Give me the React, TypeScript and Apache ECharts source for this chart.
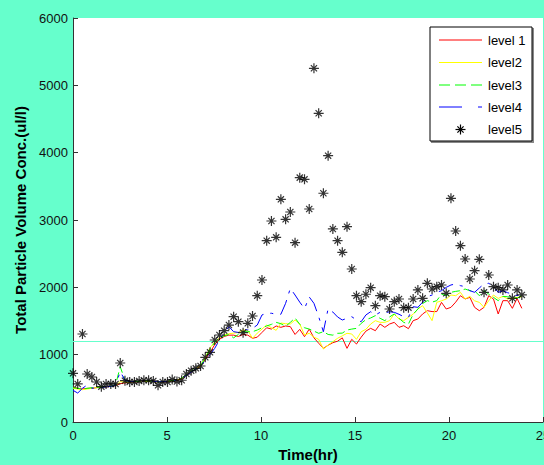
import React, { useEffect, useRef } from "react";
import * as echarts from "echarts";

// sample spacing of the measurements (hours)
const STEP_HR = 0.2513;

const seriesNames = ["level 1", "level2", "level3", "level4", "level5"];

const level1 = [
  520, 500, 490, 500, 500, 510, 520, 520, 530, 540,
  570, 580, 590, 595, 600, 605, 600, 605, 590, 595,
  600, 610, 620, 640, 690, 740, 790, 830, 930, 1030,
  1150, 1230, 1270, 1290, 1290, 1270, 1300, 1290, 1243, 1260,
  1330, 1400, 1380, 1426, 1406, 1426, 1416, 1300, 1376, 1267,
  1380, 1250, 1170, 1094, 1140, 1178, 1200, 1250, 1094, 1228,
  1158, 1260, 1350, 1391, 1356, 1455, 1406, 1455, 1480, 1406,
  1430, 1386, 1505, 1530, 1604, 1653, 1640, 1640, 1777, 1678,
  1703, 1780, 1876, 1827, 1851, 1703, 1653, 1703, 1876, 1827,
  1604, 1802, 1802, 1688, 1836, 1688,
];

const level2 = [
  500, 490, 480, 490, 500, 510, 520, 520, 530, 540,
  600, 590, 590, 600, 600, 610, 605, 600, 590, 600,
  600, 615, 625, 650, 700, 750, 790, 840, 960, 1100,
  1190, 1250, 1290, 1310, 1320, 1330, 1366, 1360, 1243, 1320,
  1380, 1440, 1400, 1361, 1470, 1460, 1455, 1515, 1455, 1292,
  1317, 1260, 1228, 1084, 1144, 1193, 1243, 1280, 1317, 1307,
  1228, 1341, 1376, 1455, 1505, 1480, 1480, 1505, 1604, 1530,
  1505, 1555, 1600, 1678, 1728, 1620, 1505, 1777, 1800, 1827,
  1886, 1876, 1926, 1827, 1866, 1800, 1777, 1703, 1802, 1886,
  1836, 1866, 1827, 1836, 1851, 1860,
];

const level3 = [
  510, 500, 490, 500, 510, 515, 520, 525, 530, 550,
  820, 620, 595, 600, 605, 610, 610, 605, 595, 600,
  605, 615, 625, 650, 700, 750, 790, 835, 950, 1080,
  1180, 1250, 1280, 1300, 1250, 1300, 1340, 1341, 1341, 1366,
  1400, 1426, 1450, 1480, 1460, 1420, 1480, 1545, 1450, 1400,
  1380, 1350, 1317, 1341, 1300, 1290, 1317, 1320, 1366, 1380,
  1391, 1465, 1520, 1545, 1580, 1540, 1505, 1560, 1604, 1540,
  1480, 1455, 1600, 1678, 1760, 1802, 1780, 1802, 1900, 1876,
  1926, 1940, 1950, 1975, 1950, 1950, 1876, 1950, 1900, 1851,
  1802, 1866, 1860, 1851, 1836, 1880,
];

const level4 = [
  470, 430, 500, 550, 500, 510, 515, 520, 530, 540,
  750, 620, 600, 600, 605, 610, 610, 605, 595, 600,
  600, 610, 625, 640, 690, 740, 790, 830, 920, 1000,
  1094, 1218, 1330, 1416, 1341, 1330, 1380, 1366, 1391, 1440,
  1590, 1615, 1615, 1600, 1600, 1762, 1985, 1886, 1780, 1683,
  1857, 1762, 1564, 1341, 1683, 1633, 1560, 1515, 1540, 1564,
  1515, 1490, 1590, 1638, 1590, 1629, 1620, 1638, 1629, 1600,
  1564, 1555, 1712, 1703, 1780, 1861, 1886, 1926, 1950, 2000,
  2035, 2050, 2025, 2010, 1950, 1926, 1990, 2050, 2060, 2010,
  1926, 1950, 1920, 1900, 1876, 1900,
];

const level5 = [
  723, 565, 1307, 713, 668, 594, 525, 565, 565, 565,
  876, 613, 594, 594, 610, 620, 620, 610, 545, 594,
  594, 630, 600, 620, 713, 762, 797, 832, 961, 1035,
  1218, 1292, 1356, 1440, 1564, 1490, 1327, 1466, 1574, 1876,
  2109, 2693, 2985, 2743, 3307, 3010, 3119, 2663, 3629, 3604,
  3163, 5253, 4585, 3397, 3955, 2867, 2693, 2520, 2901, 2272,
  1876, 1787, 1897, 1995, 1727, 1876, 1861, 1678, 1787, 1827,
  1698, 1698, 1827, 1961, 1837, 2060, 1975, 2010, 2035, 1911,
  3322, 2837, 2619, 2421, 2124, 2247, 2416, 1926, 2183, 2010,
  1995, 1961, 2035, 1837, 1961, 1887,
];

const referenceLevel = 1200;

const BG = "#66FFCC";
const FONT = 'Arial, "Liberation Sans", sans-serif';
const STAR =
  "path://M5,0 L5,10 M0,5 L10,5 M1.9,1.9 L8.1,8.1 M1.9,8.1 L8.1,1.9";

export default function App() {
  const ref = useRef<HTMLDivElement>(null);

  useEffect(() => {
    document.body.style.margin = "0";
    const chart = echarts.init(ref.current!, null, { renderer: "svg" });
    const pairs = (vals: number[]) =>
      vals.map((v, i) => [Math.round(i * STEP_HR * 1000) / 1000, v]);

    const colors = ["#FF0000", "#FFFF00", "#00FF00", "#0000FF", "#000000"];
    const dashes: any[] = ["solid", "solid", [8, 4], [16, 7, 3, 7]];
    const lineData = [level1, level2, level3, level4];

    const lineSeries = lineData.map((d, k) => ({
      name: seriesNames[k],
      type: "line",
      data: pairs(d),
      showSymbol: false,
      symbol: "none",
      lineStyle: { color: colors[k], width: 1, type: dashes[k] },
      z: 2 + k,
      ...(k === 0
        ? {
            markLine: {
              silent: true,
              symbol: ["none", "none"],
              label: { show: false },
              lineStyle: { color: BG, type: "solid", width: 1 },
              data: [{ yAxis: referenceLevel }],
              z: 1,
            },
          }
        : {}),
    }));

    const legendRows = [40, 62.5, 85, 107, 129.5];
    const legendGraphics: any[] = [
      {
        type: "rect",
        shape: { x: 431, y: 28, width: 103, height: 115 },
        style: { fill: "#888", stroke: "none" },
        z: 100,
      },
      {
        type: "rect",
        shape: { x: 430, y: 27, width: 102, height: 114 },
        style: { fill: "#fff", stroke: "#000", lineWidth: 1 },
        z: 101,
      },
    ];
    const legendDash: any[] = [null, null, [11, 5], [23, 16, 4, 100]];
    seriesNames.forEach((name, k) => {
      const y = legendRows[k];
      if (k < 4) {
        legendGraphics.push({
          type: "line",
          shape: { x1: 439, y1: y, x2: 482, y2: y },
          style: {
            stroke: colors[k],
            lineWidth: 1,
            lineDash: legendDash[k] || undefined,
          },
          z: 102,
        });
      } else {
        const cx = 460.5;
        const a = 5;
        const b = 3.1;
        [
          [cx, y - a, cx, y + a],
          [cx - a, y, cx + a, y],
          [cx - b, y - b, cx + b, y + b],
          [cx - b, y + b, cx + b, y - b],
        ].forEach(([x1, y1, x2, y2]) =>
          legendGraphics.push({
            type: "line",
            shape: { x1, y1, x2, y2 },
            style: { stroke: "#000", lineWidth: 1.2 },
            z: 102,
          })
        );
      }
      legendGraphics.push({
        type: "text",
        x: 488,
        y,
        style: {
          text: name,
          font: `13px ${FONT}`,
          fill: "#000",
          verticalAlign: "middle",
          align: "left",
        },
        z: 102,
      });
    });

    chart.setOption({
      animation: false,
      backgroundColor: BG,
      grid: {
        left: 73,
        right: 1,
        top: 18,
        bottom: 43,
        show: true,
        backgroundColor: "#fff",
        borderWidth: 0,
        containLabel: false,
        outerBoundsMode: "none",
      },
      xAxis: {
        type: "value",
        min: 0,
        max: 25,
        interval: 5,
        name: "Time(hr)",
        nameLocation: "middle",
        nameGap: 24,
        nameTextStyle: {
          fontFamily: FONT,
          fontWeight: "bold",
          fontSize: 15,
          color: "#000",
        },
        axisLine: { show: true, lineStyle: { color: "#333", width: 1 } },
        axisTick: { show: true, inside: true, length: 5, lineStyle: { color: "#333" } },
        axisLabel: {
          fontFamily: FONT,
          fontSize: 13,
          color: "#111",
          margin: 7,
          alignMaxLabel: "center",
          formatter: (v: number) => String(v),
        },
        splitLine: { show: false },
      },
      yAxis: {
        type: "value",
        min: 0,
        max: 6000,
        interval: 1000,
        name: "Total Particle Volume Conc.(ul/l)",
        nameLocation: "middle",
        nameGap: 41,
        nameRotate: 90,
        nameTextStyle: {
          fontFamily: FONT,
          fontWeight: "bold",
          fontSize: 15,
          color: "#000",
        },
        axisLine: { show: true, lineStyle: { color: "#333", width: 1 } },
        axisTick: { show: true, inside: true, length: 5, lineStyle: { color: "#333" } },
        axisLabel: {
          fontFamily: FONT,
          fontSize: 13,
          color: "#111",
          margin: 5,
          formatter: (v: number) => String(v),
        },
        splitLine: { show: false },
      },
      series: [
        ...lineSeries,
        {
          name: seriesNames[4],
          type: "scatter",
          data: pairs(level5),
          symbol: STAR,
          symbolSize: 10,
          itemStyle: {
            color: "transparent",
            borderColor: "#000",
            borderWidth: 1.2,
          },
          z: 10,
        },
      ],
      graphic: legendGraphics,
    });

    return () => chart.dispose();
  }, []);

  return (
    <div
      ref={ref}
      style={{ position: "absolute", left: 0, top: 0, width: 544, height: 465 }}
    />
  );
}
